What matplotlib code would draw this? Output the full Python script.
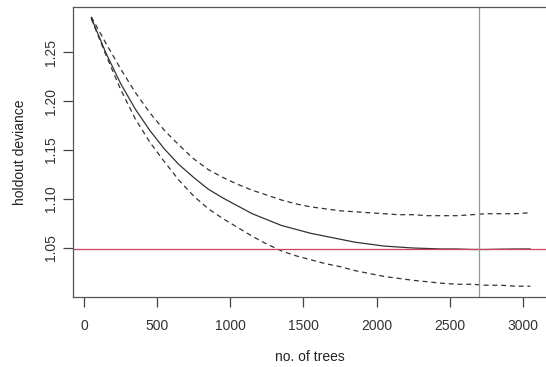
# holdout deviance vs number of trees (gbm.step style plot)
import matplotlib
matplotlib.use("Agg")
from matplotlib import pyplot as plt

plt.rcParams['font.family'] = ['Liberation Sans', 'DejaVu Sans']

# number of trees
trees = [50, 150, 250, 350, 450, 550, 650, 750, 850, 950,
         1050, 1150, 1250, 1350, 1450, 1550, 1650, 1750, 1850, 1950,
         2050, 2150, 2250, 2350, 2450, 2550, 2650, 2750, 2850, 2950, 3050]

# mean holdout deviance
dev_mean = [1.285, 1.249, 1.218, 1.192, 1.170, 1.151, 1.135, 1.122, 1.110, 1.101,
            1.093, 1.085, 1.079, 1.073, 1.069, 1.065, 1.062, 1.059, 1.056, 1.054,
            1.052, 1.051, 1.050, 1.0495, 1.049, 1.049, 1.0485, 1.0485, 1.0488, 1.049, 1.049]

# mean +/- se
dev_upper = [1.286, 1.259, 1.233, 1.209, 1.188, 1.170, 1.155, 1.141, 1.130, 1.122,
             1.115, 1.109, 1.104, 1.099, 1.095, 1.092, 1.090, 1.088, 1.087, 1.086,
             1.085, 1.084, 1.084, 1.083, 1.083, 1.083, 1.084, 1.085, 1.085, 1.085, 1.086]
dev_lower = [1.284, 1.247, 1.212, 1.182, 1.158, 1.138, 1.119, 1.103, 1.090, 1.080,
             1.071, 1.062, 1.054, 1.047, 1.042, 1.038, 1.034, 1.031, 1.027, 1.024,
             1.021, 1.019, 1.017, 1.0155, 1.014, 1.013, 1.013, 1.012, 1.012, 1.011, 1.011]

best_trees = 2700

xticks = [0, 500, 1000, 1500, 2000, 2500, 3000]
yticks = [1.05, 1.10, 1.15, 1.20, 1.25]

fig = plt.figure(figsize=(5.46, 3.67), dpi=100)
ax = fig.add_axes([73/546, 1 - 297/367, 1 - 73/546 + 0.002, 290/367])

ax.plot(trees, dev_mean, color='#333333', lw=0.9)
ax.plot(trees, dev_upper, color='#333333', lw=0.9, dashes=(4, 3))
ax.plot(trees, dev_lower, color='#333333', lw=0.9, dashes=(4, 3))
ax.axhline(min(dev_mean), color='#cc4455', lw=0.9)
ax.axvline(best_trees, color='#66bb66', lw=0.9)

ax.set_xlim(-75, 3165)
ax.set_ylim(1.0, 1.296)
ax.set_xticks(xticks)
ax.set_yticks(yticks)
ax.set_yticklabels(['%.2f' % v for v in yticks], rotation=90, va='center')
ax.tick_params(axis='both', length=7, width=0.9, color='#444444',
               labelsize=10, labelcolor='#333333')
ax.tick_params(axis='x', pad=9)
ax.tick_params(axis='y', pad=4)
for s in ax.spines.values():
    s.set_color('#555555')
    s.set_linewidth(0.9)

ax.set_xlabel('no. of trees', fontsize=10, color='#222222', labelpad=12)
ax.set_ylabel('holdout deviance', fontsize=10, color='#222222', labelpad=12)

plt.savefig('out.png', dpi=100)
